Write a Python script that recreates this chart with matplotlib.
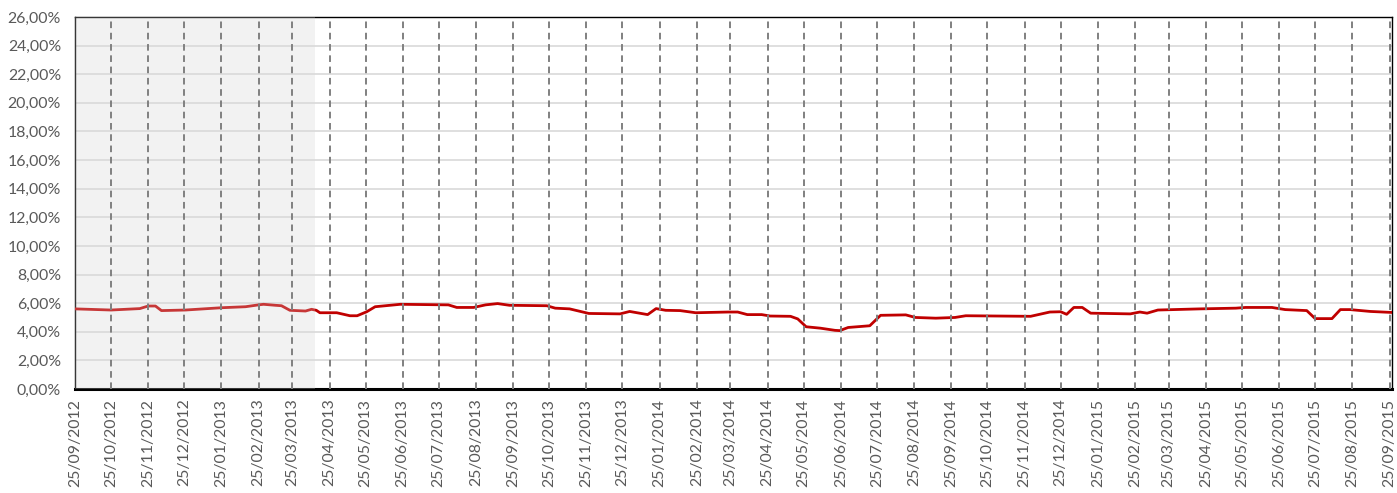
import matplotlib
matplotlib.use("Agg")
import matplotlib.pyplot as plt
import matplotlib.dates as mdates
from matplotlib.ticker import FuncFormatter, MultipleLocator
import numpy as np
import datetime as dt

# ---- data (day offset from 25/09/2012, rate in %) ----
start_date = dt.date(2012, 9, 25)
day_offsets = [0, 30, 54, 61, 67, 72, 92, 122, 142, 152, 157, 167, 172, 179, 192, 197,
               201, 204, 218, 229, 235, 243, 250, 271, 311, 318, 332, 342, 352, 362,
               393, 400, 412, 428, 454, 462, 477, 484, 492, 504, 517, 544, 552, 560,
               572, 579, 596, 602, 609, 621, 633, 637, 644, 662, 671, 692, 700, 717,
               733, 742, 796, 812, 821, 826, 832, 839, 846, 879, 887, 893, 902, 937,
               967, 975, 997, 1008, 1026, 1033, 1047, 1054, 1062, 1079, 1097]
rates = [5.60, 5.52, 5.62, 5.80, 5.80, 5.48, 5.52, 5.68, 5.75, 5.87, 5.92, 5.85, 5.82,
         5.50, 5.45, 5.57, 5.50, 5.33, 5.33, 5.12, 5.12, 5.40, 5.75, 5.92, 5.88, 5.70,
         5.70, 5.88, 5.97, 5.85, 5.82, 5.65, 5.60, 5.28, 5.25, 5.42, 5.20, 5.62, 5.50,
         5.48, 5.33, 5.38, 5.38, 5.20, 5.20, 5.10, 5.08, 4.90, 4.35, 4.25, 4.10, 4.08,
         4.30, 4.42, 5.15, 5.18, 5.00, 4.95, 5.00, 5.12, 5.08, 5.38, 5.40, 5.22, 5.70,
         5.70, 5.30, 5.25, 5.38, 5.30, 5.52, 5.60, 5.65, 5.70, 5.70, 5.55, 5.48, 4.92,
         4.92, 5.55, 5.55, 5.42, 5.35]
shade_end_offset = 200
n_months = 37

dates = [start_date + dt.timedelta(days=d) for d in day_offsets]
shade_end = start_date + dt.timedelta(days=shade_end_offset)
tick_dates = []
y0, m0 = 2012, 9
for i in range(n_months):
    m = m0 + i
    tick_dates.append(dt.date(y0 + (m - 1) // 12, (m - 1) % 12 + 1, 25))

plt.rcParams['font.family'] = ['Lato', 'DejaVu Sans']

fig = plt.figure(figsize=(13.97, 4.93), dpi=100)
ax = fig.add_axes([75/1397, 1-389/493, (1392-75)/1397, (389-17)/493])

ax.set_ylim(0, 26)
ax.set_xlim(start_date, start_date + dt.timedelta(days=1097.5))
ax.yaxis.set_major_locator(MultipleLocator(2))
ax.yaxis.set_major_formatter(FuncFormatter(lambda v, p: f"{v:.2f}".replace('.', ',') + '%'))
ax.grid(axis='y', color='#d9d9d9', linewidth=1.2, zorder=0)

# solid light background for the shaded period
ax.axvspan(start_date, shade_end, color='#fafafa', zorder=0.5, linewidth=0)

ax.plot(dates, rates, color='#c00000', linewidth=2, zorder=3)

# vertical dashed month lines
for d in tick_dates[1:]:
    ax.axvline(d, color='#808080', linewidth=1.4, linestyle=(0, (3.4, 2.4)), zorder=5)

# translucent overlay on the shaded period
ax.axvspan(start_date, shade_end, color='#dcdcdc', alpha=0.25, zorder=4, linewidth=0)

ax.set_xticks(tick_dates)
ax.xaxis.set_major_formatter(mdates.DateFormatter('%d/%m/%Y'))
ax.tick_params(axis='x', rotation=90, length=0, pad=7, labelsize=11.4, labelcolor='#595959')
ax.tick_params(axis='y', length=0, pad=10, labelsize=11.4, labelcolor='#595959')

for s in ['top', 'right', 'left']:
    ax.spines[s].set_color('black')
    ax.spines[s].set_linewidth(1)
ax.spines['bottom'].set_linewidth(2.2)
ax.spines['bottom'].set_zorder(3)

fig.savefig('out.png', dpi=100)
